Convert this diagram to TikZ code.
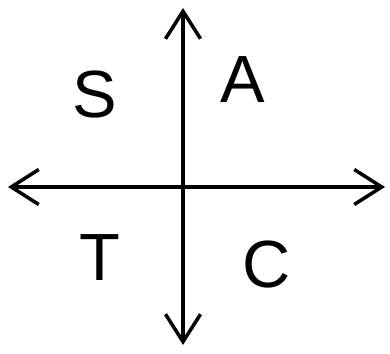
\documentclass[tikz,border=0pt]{standalone}
\usepackage{fontspec}
\setmainfont{Liberation Sans}
\usetikzlibrary{arrows.meta}

\begin{document}
\begin{tikzpicture}[
    axis line/.style={
        line width=2pt, line cap=round,
        arrows={Straight Barb[length=5.5mm, width=7mm, line width=2pt]-Straight Barb[length=5.5mm, width=7mm, line width=2pt]}
    },
    quadrant label/.style={font=\fontsize{38}{42}\selectfont, inner sep=0pt}
]
    \useasboundingbox (0,0) rectangle (7.8,7.08);

    % axis ends
    \coordinate (top) at (3.66,6.92);
    \coordinate (bottom) at (3.66,0.18);
    \coordinate (left) at (0.16,3.34);
    \coordinate (right) at (7.70,3.34);

    \draw[axis line] (bottom) -- (top);
    \draw[axis line] (left) -- (right);

    % quadrants
    \node[quadrant label] (sine) at (1.90,5.18) {S};
    \node[quadrant label] (all) at (4.86,5.48) {A};
    \node[quadrant label] (tangent) at (2.00,1.92) {T};
    \node[quadrant label] (cosine) at (5.34,1.78) {C};

\end{tikzpicture}
\end{document}
